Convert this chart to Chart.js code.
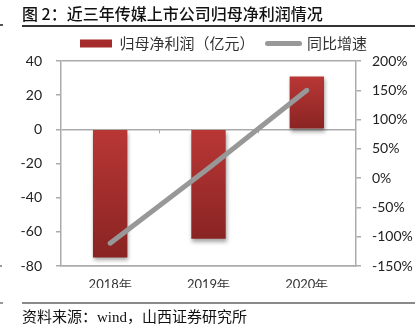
<!DOCTYPE html>
<html>
<head>
<meta charset="utf-8">
<script src="https://cdn.jsdelivr.net/npm/chart.js@4.4.0/dist/chart.umd.min.js"></script>
<style>
  body { margin: 0; background: #fff; }
  #wrap { position: relative; width: 419px; height: 334px; overflow: hidden; font-family: "Noto Sans CJK SC", sans-serif; }
  #chart { position: absolute; left: 0; top: 0; }
  .title { position: absolute; left: 22px; top: 3px; font-size: 16px; line-height: 20px; font-weight: 500; color: #111; white-space: nowrap; }
  .rule { position: absolute; left: 22px; width: 393px; }
  .src { position: absolute; left: 22px; top: 306px; font-size: 15px; line-height: 19px; color: #111; white-space: nowrap; }
  .src .en { font-family: "Liberation Serif", serif; }
  .frag { position: absolute; left: 0; }
</style>
</head>
<body>
<div id="wrap">
  <canvas id="chart" width="419" height="334"></canvas>
  <div class="title">图 2：近三年传媒上市公司归母净利润情况</div>
  <div class="rule" style="top:25px;height:1.5px;background:#333;"></div>
  <div class="rule" style="top:302px;height:2px;background:#8a8a8a;"></div>
  <div class="src">资料来源：<span class="en">wind</span>，山西证券研究所</div>
  <div class="frag" style="top:24px;width:3px;height:1.5px;background:#555;"></div>
  <div class="frag" style="top:265px;width:1.5px;height:2px;background:#999;"></div>
  <div class="frag" style="top:302px;width:3px;height:1.5px;background:#999;"></div>
</div>
<script>
const years = ['2018年', '2019年', '2020年'];
const netProfit = [-75, -64, 31];      // 归母净利润（亿元）
const growth = [-111, 17, 150];        // 同比增速 (%)
const leftTicks = [-80, -60, -40, -20, 0, 20, 40];
const rightTicks = [-150, -100, -50, 0, 50, 100, 150, 200];
const framed = [40, 0, -80];

const axisGray = '#ababab';
const tickFont = { family: 'Lato, sans-serif', size: 14 };

// gradient per bar, lighter at the top
function barFill(c) {
    const chart = c.chart;
    if (!chart.chartArea || c.type !== 'data') return '#a32b2b';
    const y = chart.scales.y;
    const v = c.raw;
    const top = y.getPixelForValue(Math.max(v, 0));
    const bot = y.getPixelForValue(Math.min(v, 0));
    const g = chart.ctx.createLinearGradient(0, top, 0, bot);
    g.addColorStop(0, '#b93735');
    g.addColorStop(1, '#892423');
    return g;
}

const barShadow = {
    id: 'barShadow',
    beforeDatasetDraw(chart, args) {
        if (args.index !== 0) return;
        const ctx = chart.ctx;
        ctx.save();
        ctx.shadowColor = 'rgba(0,0,0,0.35)';
        ctx.shadowBlur = 4;
        ctx.shadowOffsetX = 1;
        ctx.shadowOffsetY = 3;
    },
    afterDatasetDraw(chart, args) {
        if (args.index === 0) chart.ctx.restore();
    }
};

// small category marks on the zero line
const zeroMarks = {
    id: 'zeroMarks',
    beforeDatasetsDraw(chart) {
        const x = chart.scales.x, y = chart.scales.y;
        const y0 = y.getPixelForValue(0);
        const step = (x.right - x.left) / years.length;
        const ctx = chart.ctx;
        ctx.save();
        ctx.strokeStyle = axisGray;
        ctx.lineWidth = 1;
        for (let i = 1; i < years.length; i++) {
            const px = Math.round(x.left + i * step) + 0.5;
            ctx.beginPath();
            ctx.moveTo(px, y0);
            ctx.lineTo(px, y0 + 4);
            ctx.stroke();
        }
        ctx.restore();
    }
};

// legend sits a little right of the canvas centre
const legendShift = {
    id: 'legendShift',
    afterLayout(chart) {
        const lg = chart.legend;
        if (!lg) return;
        lg.left += 14;
        lg.right += 14;
    }
};

new Chart(document.getElementById('chart'), {
    data: {
        labels: years,
        datasets: [{
            type: 'bar',
            label: '归母净利润（亿元）',
            data: netProfit,
            yAxisID: 'y',
            backgroundColor: barFill,
            borderWidth: 0,
            barPercentage: 0.35,
            categoryPercentage: 1,
            order: 2
        }, {
            type: 'line',
            label: '同比增速',
            data: growth,
            yAxisID: 'y1',
            borderColor: '#989898',
            backgroundColor: '#989898',
            borderWidth: 5,
            borderCapStyle: 'round',
            pointRadius: 0,
            tension: 0,
            order: 1
        }]
    },
    options: {
        responsive: false,
        animation: false,
        layout: {
            padding: { top: 23, left: 0, right: 0, bottom: 46 }
        },
        plugins: {
            tooltip: { enabled: false },
            legend: {
                position: 'top',
                labels: {
                    usePointStyle: true,
                    pointStyleWidth: 32,
                    boxHeight: 8,
                    padding: 13,
                    color: '#333',
                    font: { family: '"Noto Sans CJK SC", sans-serif', size: 15 },
                    generateLabels(chart) {
                        const items = Chart.defaults.plugins.legend.labels.generateLabels(chart);
                        items.sort((a, b) => a.datasetIndex - b.datasetIndex);
                        items.forEach(it => {
                            if (it.datasetIndex === 0) {
                                it.fillStyle = '#a52c2b';
                                it.strokeStyle = '#a52c2b';
                                it.lineWidth = 0;
                                it.pointStyle = 'rect';
                            } else {
                                it.fillStyle = '#989898';
                                it.strokeStyle = '#989898';
                                it.lineWidth = 5;
                                it.lineCap = 'round';
                                it.pointStyle = 'line';
                            }
                        });
                        return items;
                    }
                }
            }
        },
        scales: {
            x: {
                offset: true,
                grid: { display: false, drawTicks: false },
                border: { color: axisGray, width: 1.5 },
                ticks: { color: '#333', padding: 11, font: { family: 'Lato, sans-serif', size: 13 } },
                afterFit(s) { s.height = 22; }
            },
            y: {
                position: 'left',
                min: -80,
                max: 40,
                afterBuildTicks(s) { s.ticks = leftTicks.map(v => ({ value: v })); },
                grid: {
                    color: c => framed.includes(c.tick.value) ? axisGray : 'rgba(0,0,0,0)',
                    lineWidth: 1.5,
                    tickColor: axisGray,
                    tickLength: 5
                },
                border: { color: axisGray, width: 1.5 },
                ticks: { color: '#222', padding: 14, font: tickFont },
                afterFit(s) { s.width = 61; }
            },
            y1: {
                position: 'right',
                min: -150,
                max: 200,
                afterBuildTicks(s) { s.ticks = rightTicks.map(v => ({ value: v })); },
                grid: { drawOnChartArea: false, tickColor: axisGray, tickLength: 5, lineWidth: 1.5 },
                border: { color: axisGray, width: 1.5 },
                ticks: { color: '#222', padding: 11, font: tickFont, callback: v => v + '%' },
                afterFit(s) { s.width = 63; }
            }
        }
    },
    plugins: [barShadow, zeroMarks, legendShift]
});
</script>
</body>
</html>
